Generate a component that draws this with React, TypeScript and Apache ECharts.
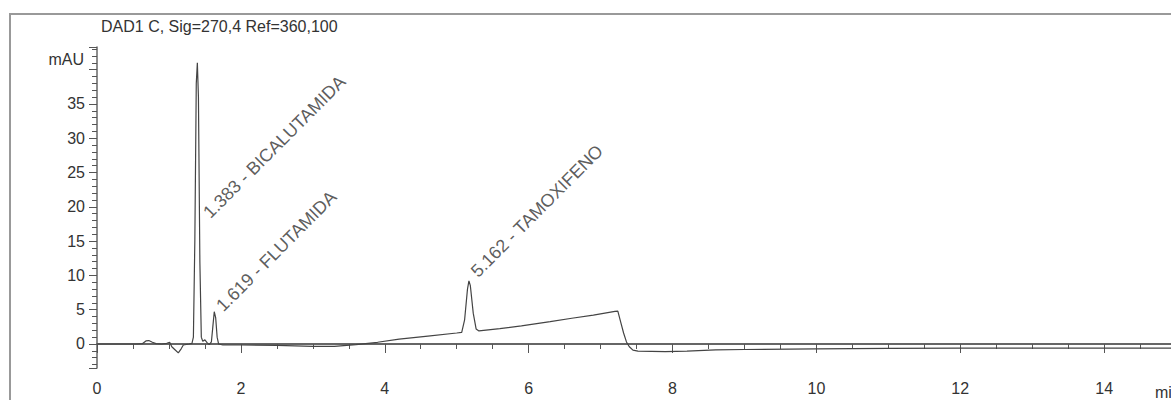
import React, { useEffect, useRef } from "react";
import * as echarts from "echarts";

// Chromatogram trace (retention time in min, signal in mAU)
const traceTime = [
  0, 0.55, 0.63, 0.68, 0.72, 0.77, 0.82, 0.9, 0.97, 1.01, 1.04, 1.08, 1.13, 1.17, 1.2, 1.28,
  1.32, 1.34, 1.36, 1.38, 1.395, 1.41, 1.43, 1.45, 1.47, 1.5, 1.53, 1.56, 1.59, 1.61, 1.63,
  1.65, 1.67, 1.69, 1.75, 2.0, 2.5, 3.0, 3.3, 3.6, 3.9, 4.2, 4.6, 5.0, 5.07, 5.11, 5.15, 5.17,
  5.19, 5.23, 5.27, 5.31, 5.6, 5.9, 6.3, 6.6, 6.9, 7.2, 7.24, 7.28, 7.32, 7.36, 7.4, 7.45, 7.52,
  7.9, 8.2, 8.6, 9.0, 10.0, 11.0, 12.0, 13.0, 14.0, 15.0, 16.0,
];
const traceSignal = [
  0, 0, 0.05, 0.45, 0.5, 0.25, 0.05, 0, 0.1, 0.25, -0.4, -0.8, -1.3, -0.7, -0.15, 0,
  0.1, 1.0, 15, 38, 41, 36, 12, 1.0, 0.4, 0.6, 0.2, -0.1, 0.3, 2.5, 4.7,
  3.8, 1.0, 0, -0.15, -0.15, -0.2, -0.35, -0.35, -0.1, 0.25, 0.7, 1.15, 1.6, 1.7, 3.5, 8.0, 9.2,
  8.5, 4.5, 2.2, 1.9, 2.25, 2.65, 3.25, 3.75, 4.2, 4.75, 4.8, 3.2, 1.6, 0.3, -0.4, -0.9, -1.05,
  -1.1, -1.05, -0.85, -0.8, -0.7, -0.65, -0.6, -0.6, -0.6, -0.6, -0.6,
];

// Peak annotations (label anchor in time / mAU)
const peakLabels = ["1.383 - BICALUTAMIDA", "1.619 - FLUTAMIDA", "5.162 - TAMOXIFENO"];
const peakLabelTime = [1.52, 1.7, 5.24];
const peakLabelSignal = [18.8, 5.2, 10.2];

const titleText = "DAD1 C, Sig=270,4 Ref=360,100";
const yUnit = "mAU";
const xUnit = "min";
const yLabelValues = [0, 5, 10, 15, 20, 25, 30, 35];
const xLabelValues = [0, 2, 4, 6, 8, 10, 12, 14];

const FONT = "'Liberation Sans', Arial, sans-serif";
const TEXT = "#333";

export default function App() {
  const ref = useRef<HTMLDivElement>(null);
  useEffect(() => {
    document.body.style.margin = "0";
    document.body.style.overflow = "hidden";
    document.documentElement.style.overflow = "hidden";
    if (!ref.current) return;
    const chart = echarts.init(ref.current, undefined, { renderer: "svg" });
    const line = traceTime.map((t, i) => [t, traceSignal[i]]);
    const labels = peakLabels.map((name, i) => ({
      name,
      value: [peakLabelTime[i], peakLabelSignal[i]],
    }));
    chart.setOption({
      animation: false,
      backgroundColor: "#fff",
      grid: { left: 97, right: 0, top: 47, bottom: 32, containLabel: false },
      xAxis: {
        type: "value",
        min: 0,
        max: 16,
        interval: 2,
        axisLine: { lineStyle: { color: "#666", width: 2 } },
        axisTick: { show: true, length: 9, lineStyle: { color: "#555", width: 1 } },
        minorTick: { show: true, splitNumber: 4, length: 5, lineStyle: { color: "#555", width: 1 } },
        splitLine: { show: false },
        axisLabel: {
          color: TEXT,
          fontSize: 16,
          fontFamily: FONT,
          margin: 12,
          formatter: (v: number) => (xLabelValues.indexOf(v) >= 0 ? String(v) : ""),
        },
      },
      yAxis: {
        type: "value",
        min: -3.5,
        max: 43.3,
        splitNumber: 9,
        axisLine: { show: true, onZero: false, lineStyle: { color: "#666", width: 1.5 } },
        axisTick: { show: true, length: 8, lineStyle: { color: "#555", width: 1 } },
        minorTick: { show: true, splitNumber: 5, length: 5, lineStyle: { color: "#555", width: 1 } },
        splitLine: { show: false },
        axisLabel: {
          color: TEXT,
          fontSize: 16,
          fontFamily: FONT,
          margin: 12,
          formatter: (v: number) => (yLabelValues.indexOf(v) >= 0 ? String(v) : ""),
        },
      },
      graphic: [
        {
          type: "rect",
          silent: true,
          shape: { x: 10, y: 14, width: 1400, height: 600 },
          style: { fill: "none", stroke: "#999", lineWidth: 2 },
        },
        {
          type: "text",
          x: 101,
          y: 26.5,
          style: { text: titleText, fill: TEXT, font: `16px ${FONT}`, verticalAlign: "middle", align: "left" },
        },
        {
          type: "text",
          x: 84,
          y: 59,
          style: { text: yUnit, fill: TEXT, font: `16px ${FONT}`, verticalAlign: "middle", align: "right" },
        },
        {
          type: "text",
          x: 1155,
          y: 392,
          style: { text: xUnit, fill: TEXT, font: `16px ${FONT}`, verticalAlign: "middle", align: "left" },
        },
      ],
      series: [
        {
          type: "line",
          data: line,
          showSymbol: false,
          symbol: "none",
          lineStyle: { color: "#444", width: 1.2 },
          clip: true,
        },
        {
          type: "scatter",
          data: labels,
          symbolSize: 0,
          silent: true,
          label: {
            show: true,
            position: [0, 0],
            rotate: 45,
            align: "left",
            verticalAlign: "middle",
            formatter: (p: any) => p.name,
            color: TEXT,
            fontSize: 18,
            fontFamily: FONT,
          },
        },
      ],
    });
    return () => chart.dispose();
  }, []);
  return <div ref={ref} style={{ width: 1251, height: 400 }} />;
}
